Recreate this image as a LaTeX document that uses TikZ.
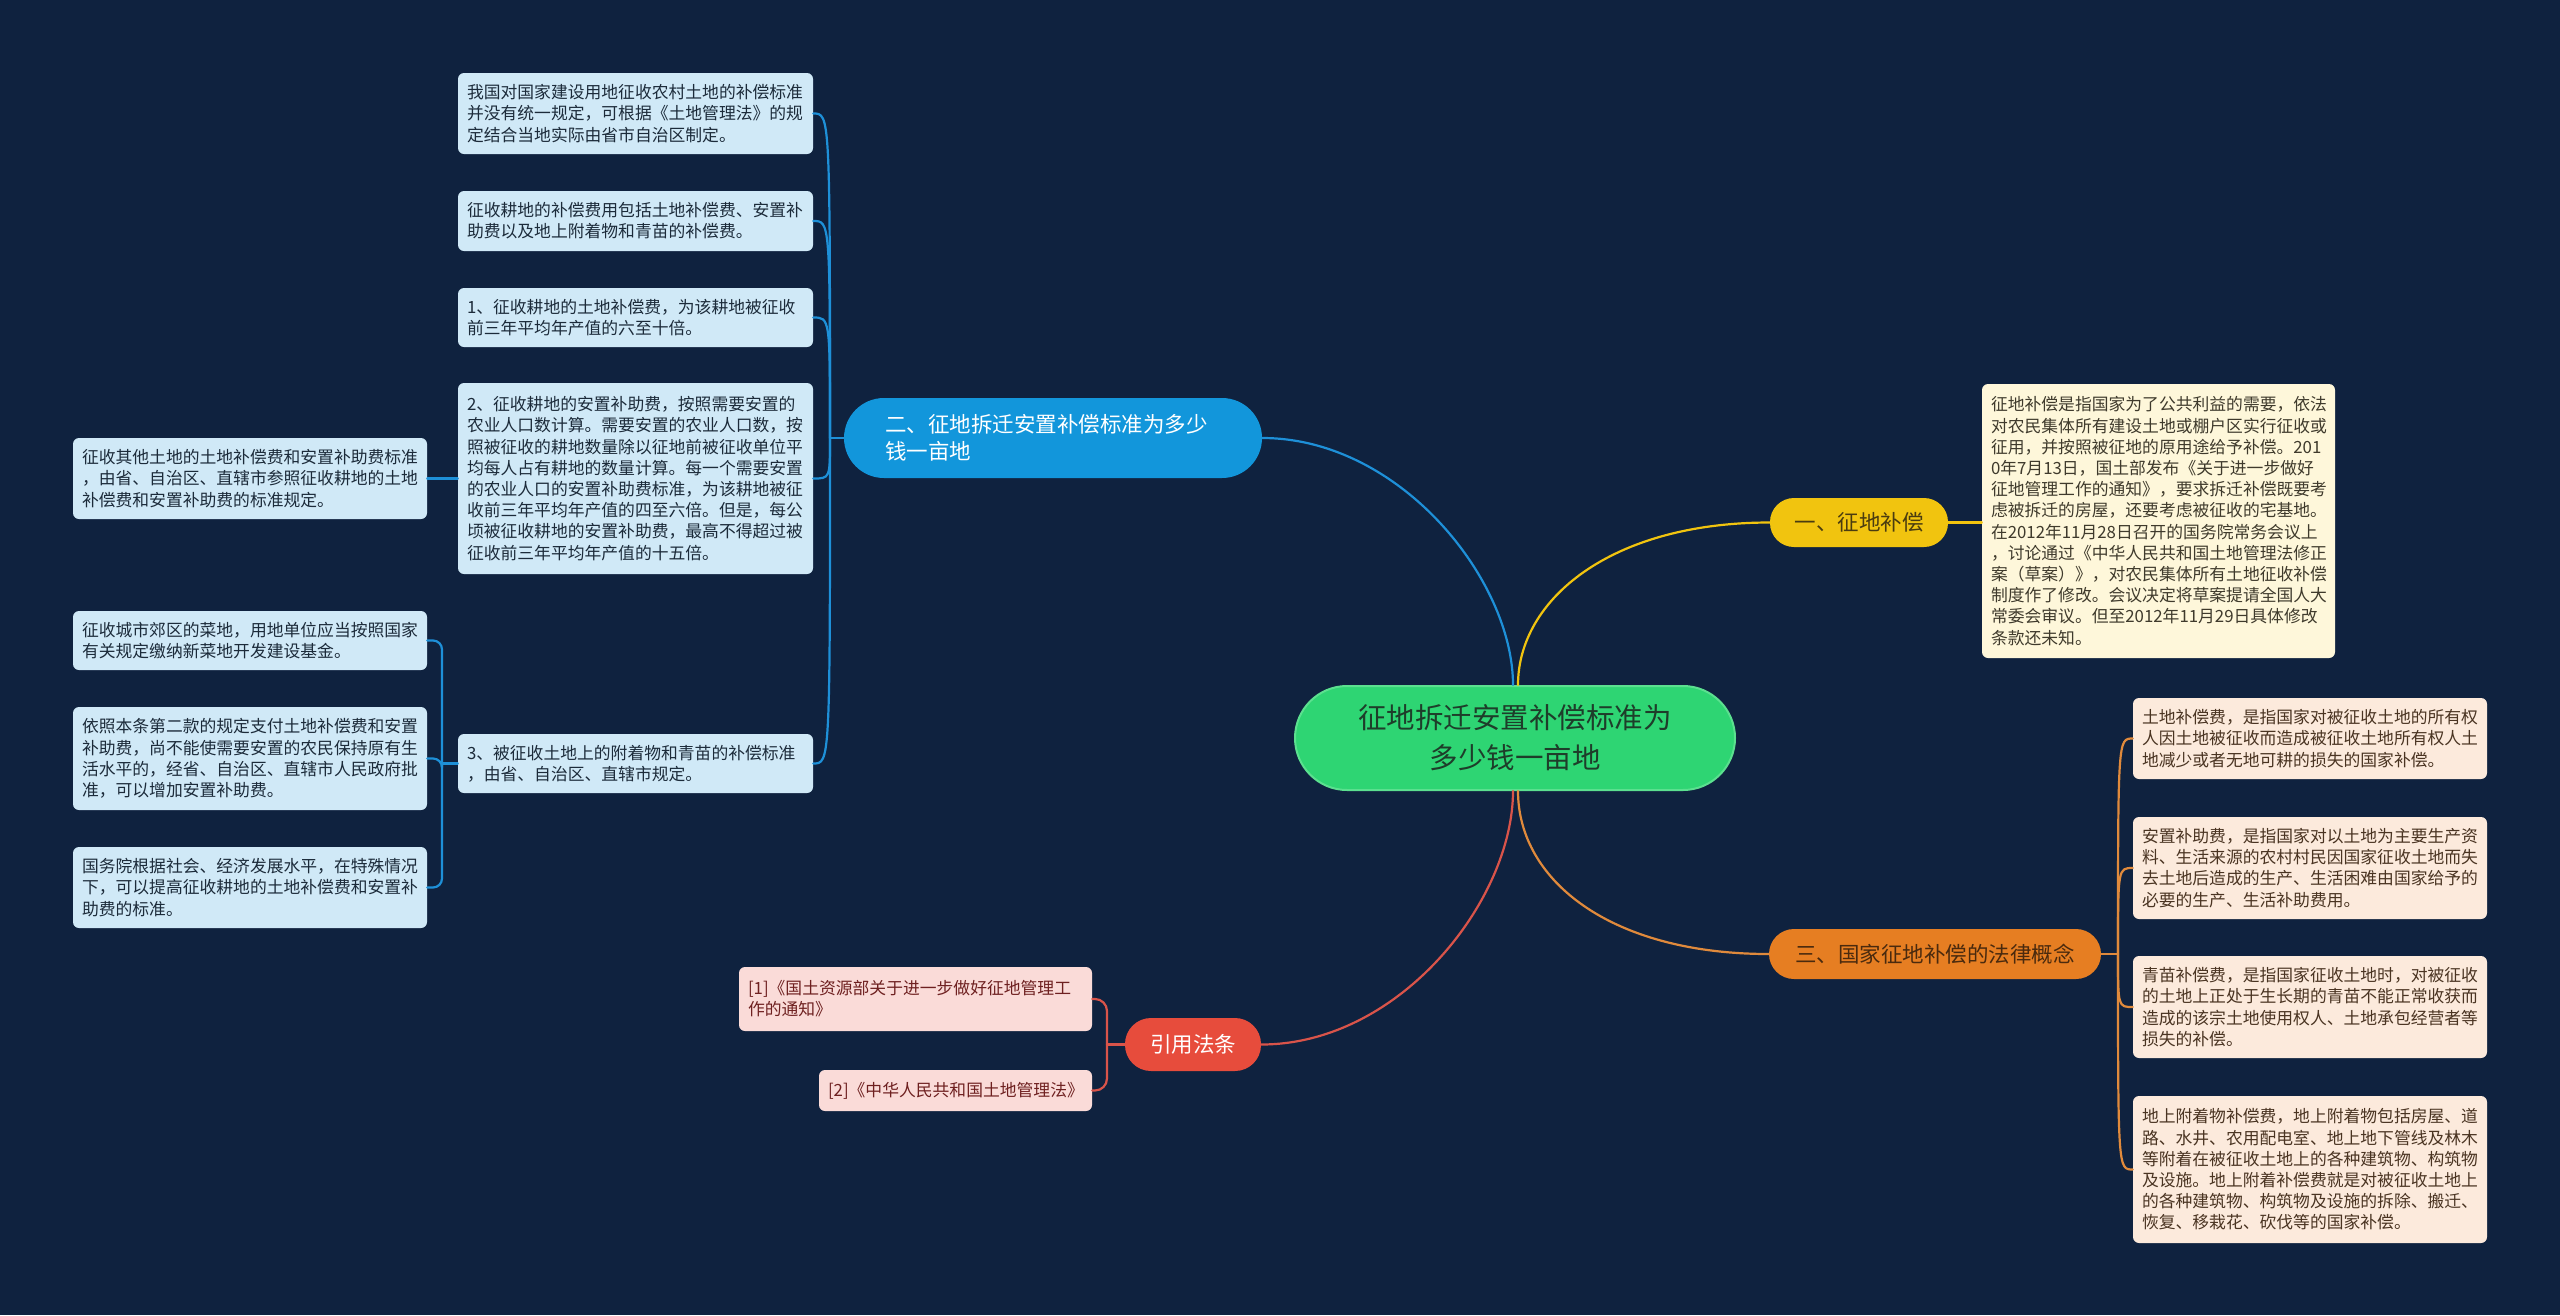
\documentclass[tikz,border=0pt]{standalone}
\usepackage{fontspec}
\setmainfont{Noto Sans CJK SC}
\definecolor{bgc}{HTML}{0F223F}
\definecolor{rootc}{HTML}{2ED573}
\definecolor{rootbd}{HTML}{5BE08F}
\definecolor{roottxt}{HTML}{1E3D2A}
\definecolor{bluec}{HTML}{1296DB}
\definecolor{bluelf}{HTML}{D0E9F7}
\definecolor{bluetxt}{HTML}{1C2B3A}
\definecolor{blueln}{HTML}{1E90D8}
\definecolor{yelc}{HTML}{F1C40F}
\definecolor{yeltxt}{HTML}{4A3C10}
\definecolor{yellf}{HTML}{FEF7DA}
\definecolor{yellftxt}{HTML}{3F3A2C}
\definecolor{orgc}{HTML}{E67E22}
\definecolor{orgtxt}{HTML}{4A2A0E}
\definecolor{orglf}{HTML}{FCEADC}
\definecolor{orglftxt}{HTML}{4A3422}
\definecolor{orgln}{HTML}{E08A3C}
\definecolor{redc}{HTML}{E74C3C}
\definecolor{redlf}{HTML}{FADBD8}
\definecolor{redlftxt}{HTML}{6E2020}
\definecolor{redln}{HTML}{D9544A}
\begin{document}
\begin{tikzpicture}[x=1pt,y=-1pt,
  dims/.style n args={3}{minimum width=#1pt, minimum height=#2pt, text width=#3pt},
  leafbox/.style={rectangle, rounded corners=6pt, inner sep=0pt, align=left,
    font=\fontsize{16.8}{21.2}\selectfont},
  bleaf/.style={leafbox, fill=bluelf, text=bluetxt},
  yleaf/.style={leafbox, fill=yellf, text=yellftxt},
  oleaf/.style={leafbox, fill=orglf, text=orglftxt},
  rleaf/.style={leafbox, fill=redlf, text=redlftxt},
  branch/.style={rectangle, inner sep=0pt, align=center,
    font=\fontsize{21.5}{27}\selectfont},
  conn/.style={line width=2.2pt, line cap=round},
  bline/.style={conn, draw=blueln},
  yline/.style={conn, draw=yelc},
  oline/.style={conn, draw=orgln},
  rline/.style={conn, draw=redln}
]
\fill[bgc] (0,0) rectangle (2560,1315);
\useasboundingbox (0,0) rectangle (2560,1315);

% root
\node[rectangle, fill=rootc, draw=rootbd, line width=2pt, rounded corners=52pt,
  minimum width=440pt, minimum height=104pt, inner sep=0pt, align=center,
  text=roottxt, font=\fontsize{28.5}{40}\selectfont] (root) at (1515,738)
  {征地拆迁安置补偿标准为\\多少钱一亩地};

% branches
\node[branch, fill=bluec, text=white, rounded corners=40pt, align=left,
  dims={418}{80}{336}] (bl) at (1053,438)
  {二、征地拆迁安置补偿标准为多少\\钱一亩地};
\node[branch, fill=yelc, text=yeltxt, rounded corners=24pt,
  minimum width=178pt, minimum height=49pt] (yel) at (1859,522.5) {一、征地补偿};
\node[branch, fill=orgc, text=orgtxt, rounded corners=25pt,
  minimum width=332pt, minimum height=50pt] (org) at (1935,954) {三、国家征地补偿的法律概念};
\node[branch, fill=redc, text=white, rounded corners=26pt,
  minimum width=136pt, minimum height=53pt] (red) at (1193,1044.5) {引用法条};

% blue leaves
\node[bleaf, dims={355}{81}{337}] (b1) at (635.5,113.5)
  {我国对国家建设用地征收农村土地的补偿标准\\并没有统一规定，可根据《土地管理法》的规\\定结合当地实际由省市自治区制定。};
\node[bleaf, dims={355}{60}{337}] (b2) at (635.5,221)
  {征收耕地的补偿费用包括土地补偿费、安置补\\助费以及地上附着物和青苗的补偿费。};
\node[bleaf, dims={355}{59}{337}] (b3) at (635.5,317.5)
  {1、征收耕地的土地补偿费，为该耕地被征收\\前三年平均年产值的六至十倍。};
\node[bleaf, dims={355}{191}{337}] (b4) at (635.5,478.5)
  {2、征收耕地的安置补助费，按照需要安置的\\农业人口数计算。需要安置的农业人口数，按\\照被征收的耕地数量除以征地前被征收单位平\\均每人占有耕地的数量计算。每一个需要安置\\的农业人口的安置补助费标准，为该耕地被征\\收前三年平均年产值的四至六倍。但是，每公\\顷被征收耕地的安置补助费，最高不得超过被\\征收前三年平均年产值的十五倍。};
\node[bleaf, dims={355}{59}{337}] (b5) at (635.5,763.5)
  {3、被征收土地上的附着物和青苗的补偿标准\\，由省、自治区、直辖市规定。};
\node[bleaf, dims={354}{81}{336}] (b4a) at (250,478.5)
  {征收其他土地的土地补偿费和安置补助费标准\\，由省、自治区、直辖市参照征收耕地的土地\\补偿费和安置补助费的标准规定。};
\node[bleaf, dims={354}{59}{336}] (s1) at (250,640.5)
  {征收城市郊区的菜地，用地单位应当按照国家\\有关规定缴纳新菜地开发建设基金。};
\node[bleaf, dims={354}{103}{336}] (s2) at (250,758.5)
  {依照本条第二款的规定支付土地补偿费和安置\\补助费，尚不能使需要安置的农民保持原有生\\活水平的，经省、自治区、直辖市人民政府批\\准，可以增加安置补助费。};
\node[bleaf, dims={354}{81}{336}] (s3) at (250,887.5)
  {国务院根据社会、经济发展水平，在特殊情况\\下，可以提高征收耕地的土地补偿费和安置补\\助费的标准。};

% yellow leaf
\node[yleaf, dims={353}{274}{335}] (yl) at (2158.5,521)
  {征地补偿是指国家为了公共利益的需要，依法\\对农民集体所有建设土地或棚户区实行征收或\\征用，并按照被征地的原用途给予补偿。201\\0年7月13日，国土部发布《关于进一步做好\\征地管理工作的通知》，要求拆迁补偿既要考\\虑被拆迁的房屋，还要考虑被征收的宅基地。\\在2012年11月28日召开的国务院常务会议上\\，讨论通过《中华人民共和国土地管理法修正\\案（草案）》，对农民集体所有土地征收补偿\\制度作了修改。会议决定将草案提请全国人大\\常委会审议。但至2012年11月29日具体修改\\条款还未知。};

% orange leaves
\node[oleaf, dims={354}{81}{336}] (o1) at (2310,738.5)
  {土地补偿费，是指国家对被征收土地的所有权\\人因土地被征收而造成被征收土地所有权人土\\地减少或者无地可耕的损失的国家补偿。};
\node[oleaf, dims={354}{102}{336}] (o2) at (2310,868)
  {安置补助费，是指国家对以土地为主要生产资\\料、生活来源的农村村民因国家征收土地而失\\去土地后造成的生产、生活困难由国家给予的\\必要的生产、生活补助费用。};
\node[oleaf, dims={354}{102}{336}] (o3) at (2310,1007)
  {青苗补偿费，是指国家征收土地时，对被征收\\的土地上正处于生长期的青苗不能正常收获而\\造成的该宗土地使用权人、土地承包经营者等\\损失的补偿。};
\node[oleaf, dims={354}{147}{336}] (o4) at (2310,1169.5)
  {地上附着物补偿费，地上附着物包括房屋、道\\路、水井、农用配电室、地上地下管线及林木\\等附着在被征收土地上的各种建筑物、构筑物\\及设施。地上附着补偿费就是对被征收土地上\\的各种建筑物、构筑物及设施的拆除、搬迁、\\恢复、移栽花、砍伐等的国家补偿。};

% red leaves
\node[rleaf, dims={353}{64}{335}] (r1) at (915.5,999)
  {[1]《国土资源部关于进一步做好征地管理工\\作的通知》};
\node[rleaf, dims={273}{41}{255}] (r2) at (955.5,1090.5)
  {[2]《中华人民共和国土地管理法》};

% main connectors
\draw[bline] ([xshift=-2pt]root.north) .. controls (1513,580) and (1400,438) .. (bl.east);
\draw[yline] ([xshift=3pt]root.north) .. controls (1518,600) and (1610,522.5) .. (yel.west);
\draw[rline] ([xshift=-2pt]root.south) .. controls (1513,900) and (1400,1044.5) .. (red.east);
\draw[oline] ([xshift=3pt]root.south) .. controls (1518,880) and (1610,954) .. (org.west);

% blue sub connectors
\coordinate (bsp) at (830,438);
\draw[bline] (bl.west) -- (bsp);
\foreach \n in {b1,b2,b3,b4,b5}
  \draw[bline] (bsp) .. controls (bsp |- \n.east) .. (\n.east);
\draw[bline] (b4.west) -- (b4a.east);
\coordinate (ssp) at (442,763.5);
\draw[bline] (b5.west) -- (ssp);
\foreach \n in {s1,s2,s3}
  \draw[bline, rounded corners=9pt] (ssp) |- (\n.east);

% yellow
\draw[yline] (yel.east) -- (yel.east -| yl.west);

% orange
\coordinate (osp) at (2118,954);
\draw[oline] (org.east) -- (osp);
\foreach \n in {o1,o2,o3,o4}
  \draw[oline] (osp) .. controls (osp |- \n.west) .. (\n.west);

% red
\coordinate (rsp) at (1107,1044.5);
\draw[rline] (red.west) -- (rsp);
\foreach \n in {r1,r2}
  \draw[rline, rounded corners=12pt] (rsp) |- (\n.east);
\end{tikzpicture}
\end{document}
